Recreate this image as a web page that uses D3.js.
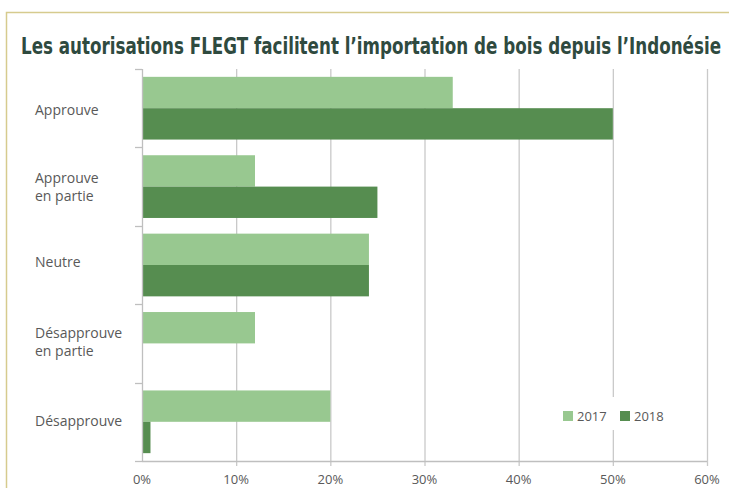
<!DOCTYPE html>
<meta charset="utf-8">
<style>
body { margin: 0; background: #fff; }
text { font-family: "Open Sans", sans-serif; fill: #595959; }
.title { font-family: "Liberation Sans Narrow", "DejaVu Sans Condensed", sans-serif; font-weight: bold; fill: #2f4a3f; }
</style>
<svg width="729" height="488"></svg>
<script src="https://d3js.org/d3.v7.min.js"></script>
<script>
var categories = [["Approuve"], ["Approuve", "en partie"], ["Neutre"], ["Désapprouve", "en partie"], ["Désapprouve"]];
var years = ["2017", "2018"];
var values2017 = [33, 12, 24.1, 12, 20];
var values2018 = [50, 25, 24.1, 0, 0.9];
var ticks = [0, 10, 20, 30, 40, 50, 60];
var colors = ["#98c890", "#568d50"];

var svg = d3.select("svg");

// frame
svg.append("path")
  .attr("d", "M6.5,488V12.5H729")
  .attr("fill", "none").attr("stroke", "#d6cb8e").attr("stroke-width", 1.5);

var title = svg.append("text").attr("class", "title")
  .attr("x", 21).attr("y", 54).attr("font-size", 23)
  .text("Les autorisations FLEGT facilitent l\u2019importation de bois depuis l\u2019Indonésie");
title.attr("textLength", 700).attr("lengthAdjust", "spacingAndGlyphs");

var x = d3.scaleLinear().domain([0, 60]).range([142, 707]);
var y = d3.scaleBand().domain(d3.range(categories.length)).range([69, 461]).paddingInner(0.2).paddingOuter(0.1);
var y1 = d3.scaleBand().domain(years).range([0, y.bandwidth()]);

// gridlines
svg.append("g").selectAll("line").data(ticks.slice(1)).join("line")
  .attr("x1", d => x(d) + 0.5).attr("x2", d => x(d) + 0.5)
  .attr("y1", 69).attr("y2", 466)
  .attr("stroke", "#c9c9c9").attr("stroke-width", 1.3);

// bars
var series = [values2017, values2018];
years.forEach(function(yr, i) {
  svg.append("g").selectAll("rect").data(series[i]).join("rect")
    .attr("x", x(0))
    .attr("y", (d, j) => y(j) + y1(yr))
    .attr("width", d => x(d) - x(0))
    .attr("height", y1.bandwidth())
    .attr("fill", colors[i]);
});

// y axis line and category ticks
var step = (461 - 69) / categories.length;
svg.append("line").attr("x1", 142.5).attr("x2", 142.5).attr("y1", 69).attr("y2", 461)
  .attr("stroke", "#bfbfbf").attr("stroke-width", 1.3);
svg.append("g").selectAll("line").data(d3.range(categories.length + 1)).join("line")
  .attr("x1", 135).attr("x2", 142)
  .attr("y1", d => Math.round(69 + d * step) + 0.5).attr("y2", d => Math.round(69 + d * step) + 0.5)
  .attr("stroke", "#bfbfbf").attr("stroke-width", 1.3);

// x axis
svg.append("line").attr("x1", 142).attr("x2", 707).attr("y1", 461.5).attr("y2", 461.5)
  .attr("stroke", "#bfbfbf").attr("stroke-width", 1.3);
svg.append("g").selectAll("text").data(ticks).join("text")
  .attr("x", d => x(d)).attr("y", 484).attr("text-anchor", "middle").attr("font-size", 13)
  .text(d => d + "%");

// category labels
var labelOffset = [2, 0, -3, -1, -1];
categories.forEach(function(lines, i) {
  var cy = y(i) + y.bandwidth() / 2 + labelOffset[i];
  var t = svg.append("text").attr("x", 35).attr("font-size", 14);
  lines.forEach(function(l, k) {
    t.append("tspan").attr("x", 35)
      .attr("y", cy + 5 + (k - (lines.length - 1) / 2) * 18)
      .text(l);
  });
});

// legend
var lg = svg.append("g");
lg.append("rect").attr("x", 555).attr("y", 397).attr("width", 120).attr("height", 33).attr("fill", "#fff");
years.forEach(function(yr, i) {
  var lx = 563 + i * 57;
  lg.append("rect").attr("x", lx).attr("y", 411).attr("width", 10).attr("height", 10).attr("fill", colors[i]);
  lg.append("text").attr("x", lx + 14).attr("y", 421).attr("font-size", 13).text(yr);
});
</script>
